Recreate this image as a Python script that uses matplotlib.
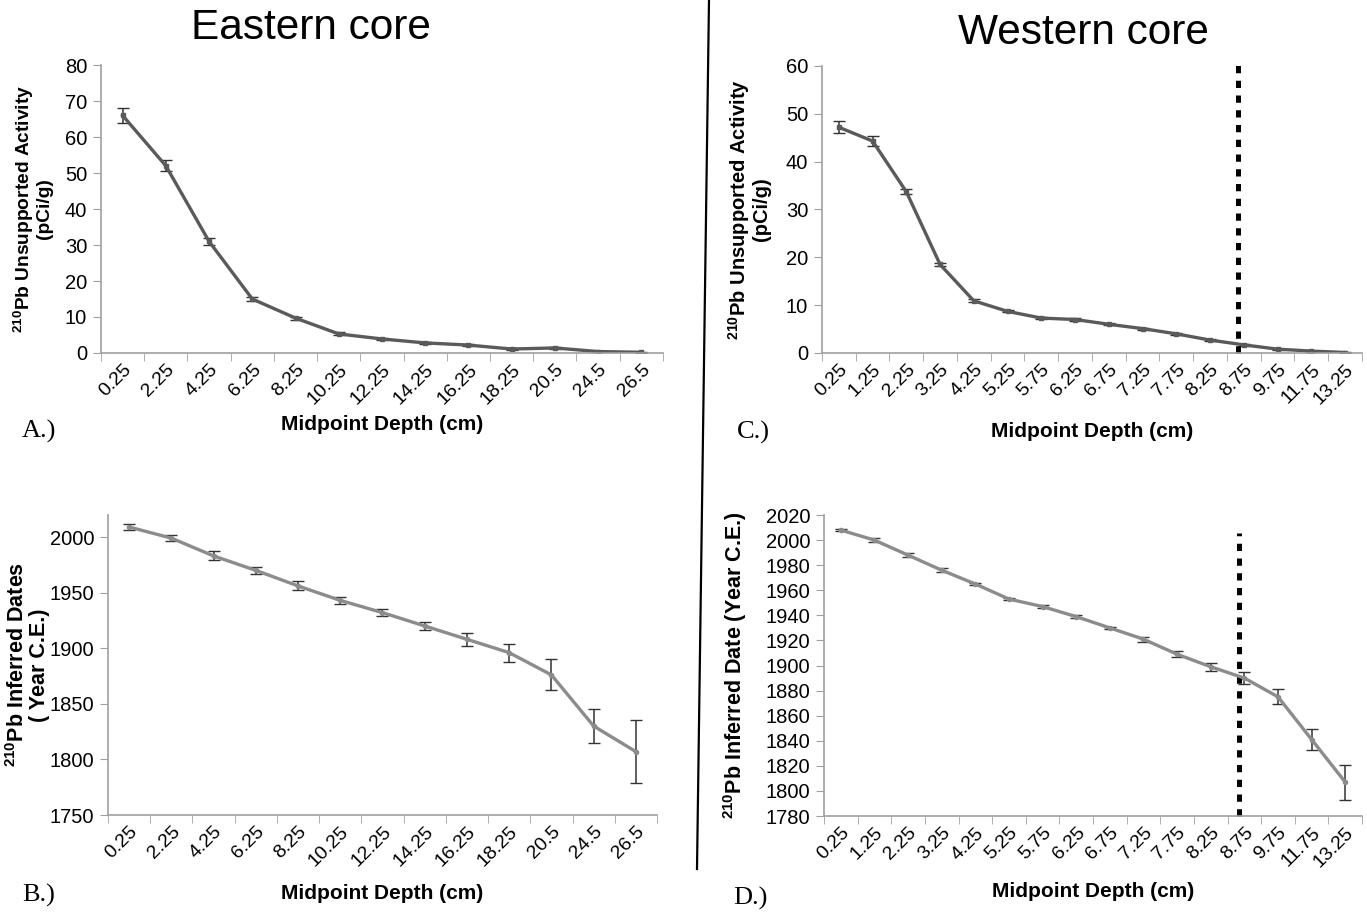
import matplotlib.pyplot as plt
from matplotlib.lines import Line2D

plt.rcParams['font.family'] = ['Liberation Sans', 'DejaVu Sans']
plt.rcParams['mathtext.fontset'] = 'custom'
plt.rcParams['mathtext.rm'] = 'Liberation Sans'
plt.rcParams['mathtext.bf'] = 'Liberation Sans:bold'

# Eastern core
east_depth = ['0.25', '2.25', '4.25', '6.25', '8.25', '10.25', '12.25', '14.25',
              '16.25', '18.25', '20.5', '24.5', '26.5']
east_act = [66, 52, 31, 15, 9.7, 5.3, 3.9, 2.8, 2.2, 1.1, 1.4, 0.4, 0.2]
east_act_err = [2, 1.5, 1, 0.6, 0.4, 0.4, 0.3, 0.3, 0.3, 0.3, 0.3, 0.2, 0.2]
east_date = [2009, 1999, 1983, 1970, 1956, 1943, 1932, 1920, 1908, 1896, 1876, 1830, 1807]
east_date_err = [3, 3, 4, 3, 4, 3, 3, 4, 6, 8, 14, 15, 28]

# Western core
west_depth = ['0.25', '1.25', '2.25', '3.25', '4.25', '5.25', '5.75', '6.25',
              '6.75', '7.25', '7.75', '8.25', '8.75', '9.75', '11.75', '13.25']
west_act = [47.2, 44.3, 33.7, 18.5, 10.9, 8.7, 7.3, 7.0, 6.0, 5.1, 4.0, 2.7, 1.7, 0.8, 0.4, 0.1]
west_act_err = [1.3, 1.0, 0.5, 0.4, 0.3, 0.2, 0.2, 0.3, 0.2, 0.2, 0.2, 0.2, 0.2, 0.1, 0.1, 0.1]
west_date = [2008, 2000, 1988, 1976, 1965, 1953, 1947, 1939, 1930, 1921, 1909, 1899, 1890,
             1875, 1841, 1807]
west_date_err = [1, 1.5, 1.5, 1.5, 1, 0.5, 1, 1, 1, 2, 2.5, 3, 4.5, 6, 8.5, 14]
cutoff_pos = 11.83  # dashed line position (category units)

fig = plt.figure(figsize=(13.67, 9.14), dpi=100)

axA = fig.add_axes([0.0739, 0.6138, 0.411, 0.315])
axB = fig.add_axes([0.0790, 0.1083, 0.4016, 0.3285])
axC = fig.add_axes([0.6013, 0.6138, 0.395, 0.314])
axD = fig.add_axes([0.6028, 0.1072, 0.3936, 0.3293])


def style(ax, labels, ylab, ylim, yticks, ysize, xpad):
    n = len(labels)
    x = list(range(n))
    ax.set_xlim(-0.5, n - 0.5)
    ax.set_ylim(*ylim)
    ax.set_yticks(yticks)
    ax.set_xticks(x)
    ax.set_xticklabels(labels, rotation=45, ha='right', rotation_mode='anchor', fontsize=14)
    ax.tick_params(axis='x', length=0, pad=6)
    ax.set_xticks([i - 0.5 for i in range(n + 1)], minor=True)
    ax.tick_params(axis='x', which='minor', length=6, color='#a0a0a0', direction='out')
    ax.tick_params(axis='y', length=6, color='#a0a0a0', labelsize=14.5, pad=4)
    for s in ['top', 'right']:
        ax.spines[s].set_visible(False)
    for s in ['left', 'bottom']:
        ax.spines[s].set_color('#a0a0a0')
        ax.spines[s].set_linewidth(1.2)
    ax.set_xlabel('Midpoint Depth (cm)', fontsize=15, fontweight='bold', labelpad=xpad)
    ax.set_ylabel(ylab, fontsize=ysize, fontweight='bold', linespacing=1.0)
    return x


x = style(axA, east_depth, r'$\mathbf{^{210}}$Pb Unsupported Activity' + '\n(pCi/g)',
          (0, 80), range(0, 81, 10), 13.8, 5)
axA.errorbar(x, east_act, yerr=east_act_err, color='#5a5a5a', lw=2.4, marker='s', ms=3,
             ecolor='#333333', elinewidth=1.1, capsize=4)

x = style(axB, east_depth, r'$\mathbf{^{210}}$Pb Inferred Dates' + '\n( Year C.E.)',
          (1750, 2020), range(1750, 2001, 50), 15.5, 10)
axB.errorbar(x, east_date, yerr=east_date_err, color='#8c8c8c', lw=2.4, marker='o', ms=3,
             ecolor='#333333', elinewidth=1.1, capsize=4)

x = style(axC, west_depth, r'$\mathbf{^{210}}$Pb Unsupported Activity' + '\n(pCi/g)',
          (0, 60), range(0, 61, 10), 14.5, 10)
axC.errorbar(x, west_act, yerr=west_act_err, color='#5a5a5a', lw=2.4, marker='s', ms=3,
             ecolor='#333333', elinewidth=1.1, capsize=4)
axC.plot([cutoff_pos, cutoff_pos], [0, 61], color='black', lw=3.6, ls=(0, (1.45, 1.5)),
         clip_on=False)

x = style(axD, west_depth, r'$\mathbf{^{210}}$Pb Inferred Date (Year C.E.)',
          (1780, 2020), range(1780, 2021, 20), 15.5, 8)
axD.errorbar(x, west_date, yerr=west_date_err, color='#8c8c8c', lw=2.4, marker='o', ms=3,
             ecolor='#333333', elinewidth=1.1, capsize=4)
axD.plot([cutoff_pos, cutoff_pos], [1780, 2006], color='black', lw=3.6, ls=(0, (1.45, 1.5)),
         clip_on=False)

axA.yaxis.set_label_coords(-0.085, 0.5)
axC.yaxis.set_label_coords(-0.095, 0.5)
axB.yaxis.set_label_coords(-0.105, 0.5)
axD.yaxis.set_label_coords(-0.14, 0.5)

# titles
fig.text(311 / 1367, 1 - 28 / 914, 'Eastern core', ha='center', va='center', fontsize=30.5)
fig.text(1083 / 1367, 1 - 33 / 914, 'Western core', ha='center', va='center', fontsize=30.5)

# panel letters
serif = ['Liberation Serif', 'DejaVu Serif']
for lbl, px, py in [('A.)', 22, 431), ('B.)', 22, 895), ('C.)', 737, 432), ('D.)', 733, 898)]:
    fig.text(px / 1367, 1 - py / 914, lbl, ha='left', va='center', fontsize=19, family=serif)

# divider between cores
fig.add_artist(Line2D([709 / 1367, 697 / 1367], [1.0, 1 - 869 / 914], color='black', lw=1.6,
                      transform=fig.transFigure))

fig.savefig('out.png', dpi=100)
